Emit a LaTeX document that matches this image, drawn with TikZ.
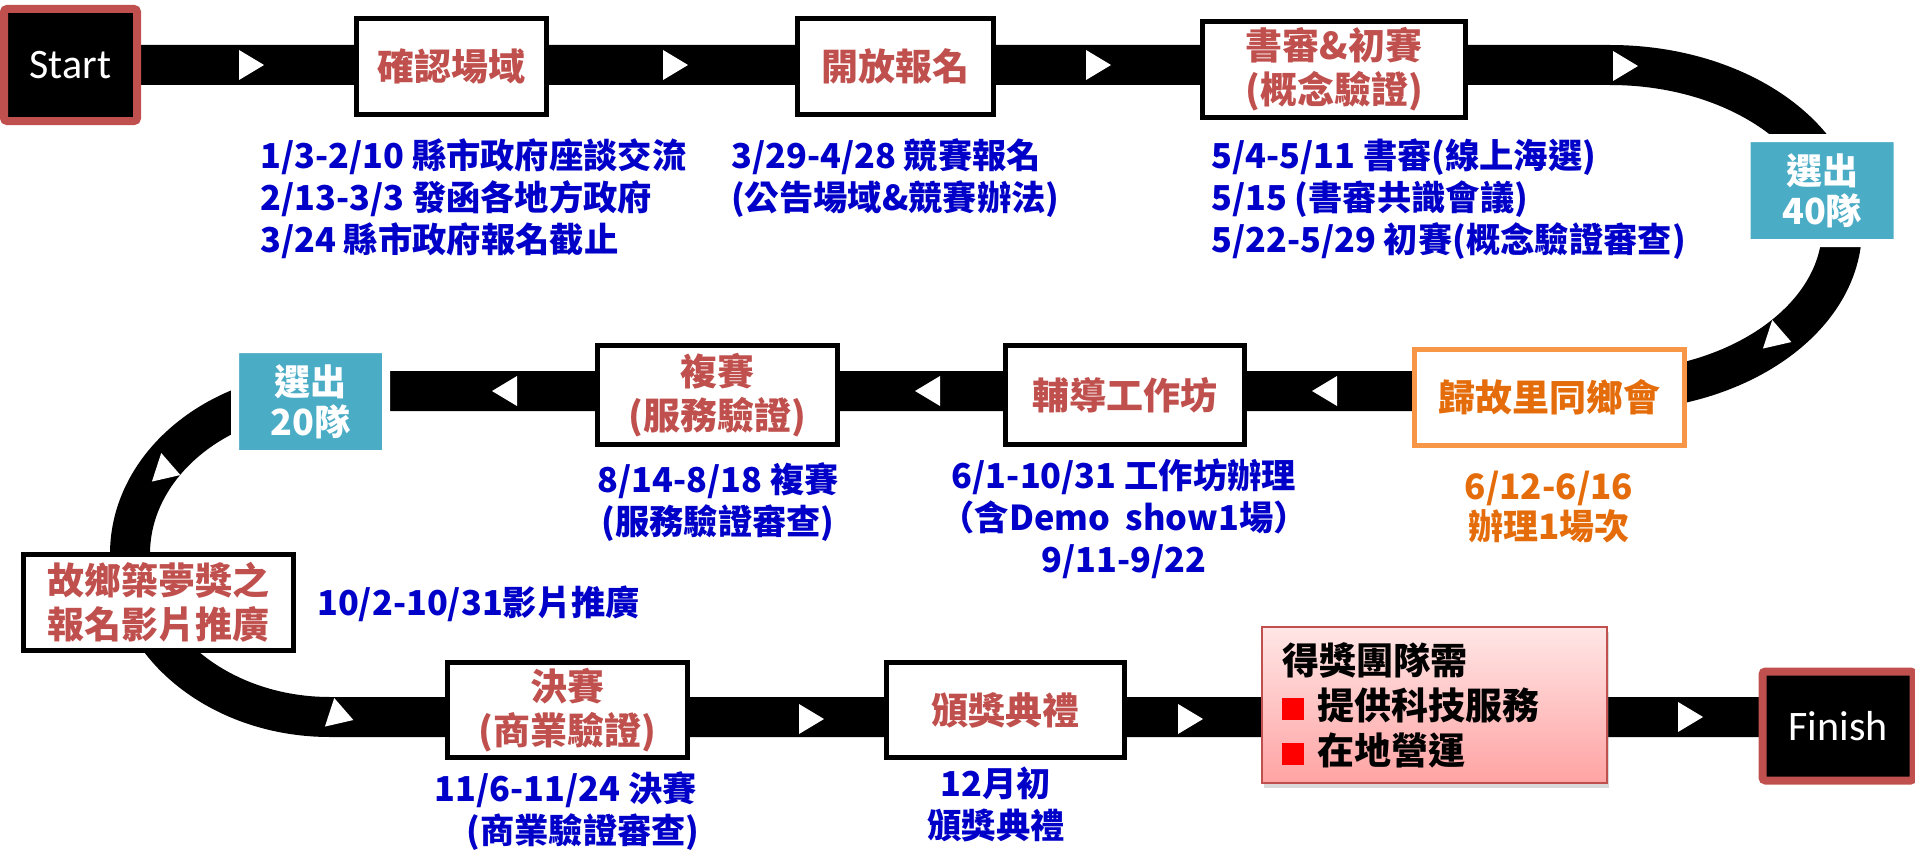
\documentclass[tikz,border=0pt]{standalone}
\usepackage{fontspec}
\setmainfont{Noto Sans CJK TC}
\newfontfamily\latin{Carlito}
\usetikzlibrary{backgrounds,shadows}
\definecolor{stagered}{HTML}{C0504D}
\definecolor{noteblue}{HTML}{0000C8}
\definecolor{pickteal}{HTML}{4BACC6}
\definecolor{tripline}{HTML}{F79646}
\definecolor{tripfont}{HTML}{E46C0A}
\definecolor{pinktop}{HTML}{FFE6E6}
\definecolor{pinkbot}{HTML}{FFA3A3}
\begin{document}
\begin{tikzpicture}[x=1pt,y=-1pt,
  stage/.style={draw,line width=5pt,fill=white,text=stagered,inner sep=0pt,align=center,
    font=\bfseries\fontsize{37}{44}\selectfont},
  note/.style={text=noteblue,inner sep=0pt,font=\bfseries\fontsize{34.3}{42}\selectfont},
  pick/.style={draw=white,line width=8pt,rounded corners=3pt,fill=pickteal,text=white,
    minimum width=151pt,minimum height=105pt,inner sep=0pt,align=center,
    font=\bfseries\fontsize{36}{40}\selectfont,
    drop shadow={opacity=.25,shadow xshift=0pt,shadow yshift=-1pt}},
  term/.style={draw=stagered,line width=8pt,rounded corners=3pt,fill=black,text=white,
    inner sep=0pt,font=\latin\fontsize{42}{50}\selectfont},
  track/.style={line width=40pt}]
  \useasboundingbox (0,0) rectangle (1915,851);
  % stations
  \node[term,minimum width=133pt,minimum height=112pt] (start) at (70.5,65) {Start};
  \node[stage,minimum width=190pt,minimum height=96pt] (site) at (451.5,66.5) {確認場域};
  \node[stage,minimum width=196pt,minimum height=96pt] (signup) at (895.5,66.5) {開放報名};
  \node[stage,minimum width=263pt,minimum height=96pt] (review) at (1334,69.5) {書審\&初賽\\(概念驗證)};
  \node[pick] (top40) at (1822,190.5) {選出\\40隊};
  \node[stage,draw=tripline,text=tripfont,minimum width=270pt,minimum height=96pt] (meet) at (1549.5,397.5) {歸故里同鄉會};
  \node[stage,minimum width=239pt,minimum height=99pt] (shop) at (1125,395) {輔導工作坊};
  \node[stage,minimum width=240pt,minimum height=99pt] (semi) at (717.5,395) {複賽\\(服務驗證)};
  \node[pick] (top20) at (310.5,401.5) {選出\\20隊};
  \node[stage,minimum width=270pt,minimum height=96pt] (video) at (158.5,602.5) {故鄉築夢獎之\\報名影片推廣};
  \node[stage,minimum width=240pt,minimum height=95pt] (final) at (567.5,710) {決賽\\(商業驗證)};
  \node[stage,minimum width=238pt,minimum height=95pt] (prize) at (1005.5,710) {頒獎典禮};
  \node[draw=stagered,line width=2pt,top color=pinktop,bottom color=pinkbot,minimum height=156pt,
    text width=305pt,inner xsep=20pt,align=left,font=\bfseries\fontsize{37}{45}\selectfont,
    drop shadow={opacity=.3,shadow xshift=2pt,shadow yshift=-5pt}] (duty) at (1434.5,705)
    {得獎團隊需\\\textcolor{red}{\rule[-1pt]{22pt}{22pt}}\hspace{13pt}提供科技服務\\\textcolor{red}{\rule[-1pt]{22pt}{22pt}}\hspace{13pt}在地營運};
  \node[term,minimum width=151pt,minimum height=109pt] (finish) at (1838,726) {Finish};
  % dates
  \node[note,anchor=west,align=left] (n1) at (260,199) {1/3-2/10 縣市政府座談交流\\2/13-3/3 發函各地方政府\\3/24 縣市政府報名截止};
  \node[note,anchor=west,align=left] (n2) at (731,178) {3/29-4/28 競賽報名\\(公告場域\&競賽辦法)};
  \node[note,anchor=west,align=left] (n3) at (1211,199) {5/4-5/11 書審(線上海選)\\5/15 (書審共識會議)\\5/22-5/29 初賽(概念驗證審查)};
  \node[note,align=center] (n4) at (718,502) {8/14-8/18 複賽\\(服務驗證審查)};
  \node[note,align=center] (n5) at (1124,519) {6/1-10/31 工作坊辦理\\（含Demo~~show1場）\\9/11-9/22};
  \node[note,align=center,text=tripfont,font=\bfseries\fontsize{35}{40}\selectfont] (n6) at (1549,507) {6/12-6/16\\辦理1場次};
  \node[note,anchor=west] (n7) at (317,604) {10/2-10/31影片推廣};
  \node[note,align=center] (n8) at (566,811) {11/6-11/24 決賽\\\hspace*{34pt}(商業驗證審查)};
  \node[note,align=center] (n9) at (996,804) {12月初\\頒獎典禮};
  % road
  \coordinate (bend) at (330,717);
  \begin{scope}[on background layer]
    \draw[track] (start.center) -- (1610,65)
      arc[start angle=90,end angle=-90,x radius=232pt,y radius=163pt] -- (330,391)
      arc[start angle=90,end angle=270,x radius=200pt,y radius=163pt] -- (bend -| finish);
  \end{scope}
  \foreach \x/\y/\a in {251/65/0,675/65/0,1098/65/0,1625/66/0,1779/338/-18,1325/391/180,
    928/391/180,505/391/180,168/471/-18,341/716/-18,811/719/0,1190/719/0,1690/717/0}
    \fill[white,shift={(\x,\y)},rotate=\a] (-12,-15) -- (13,0) -- (-12,15) -- cycle;
\end{tikzpicture}
\end{document}
